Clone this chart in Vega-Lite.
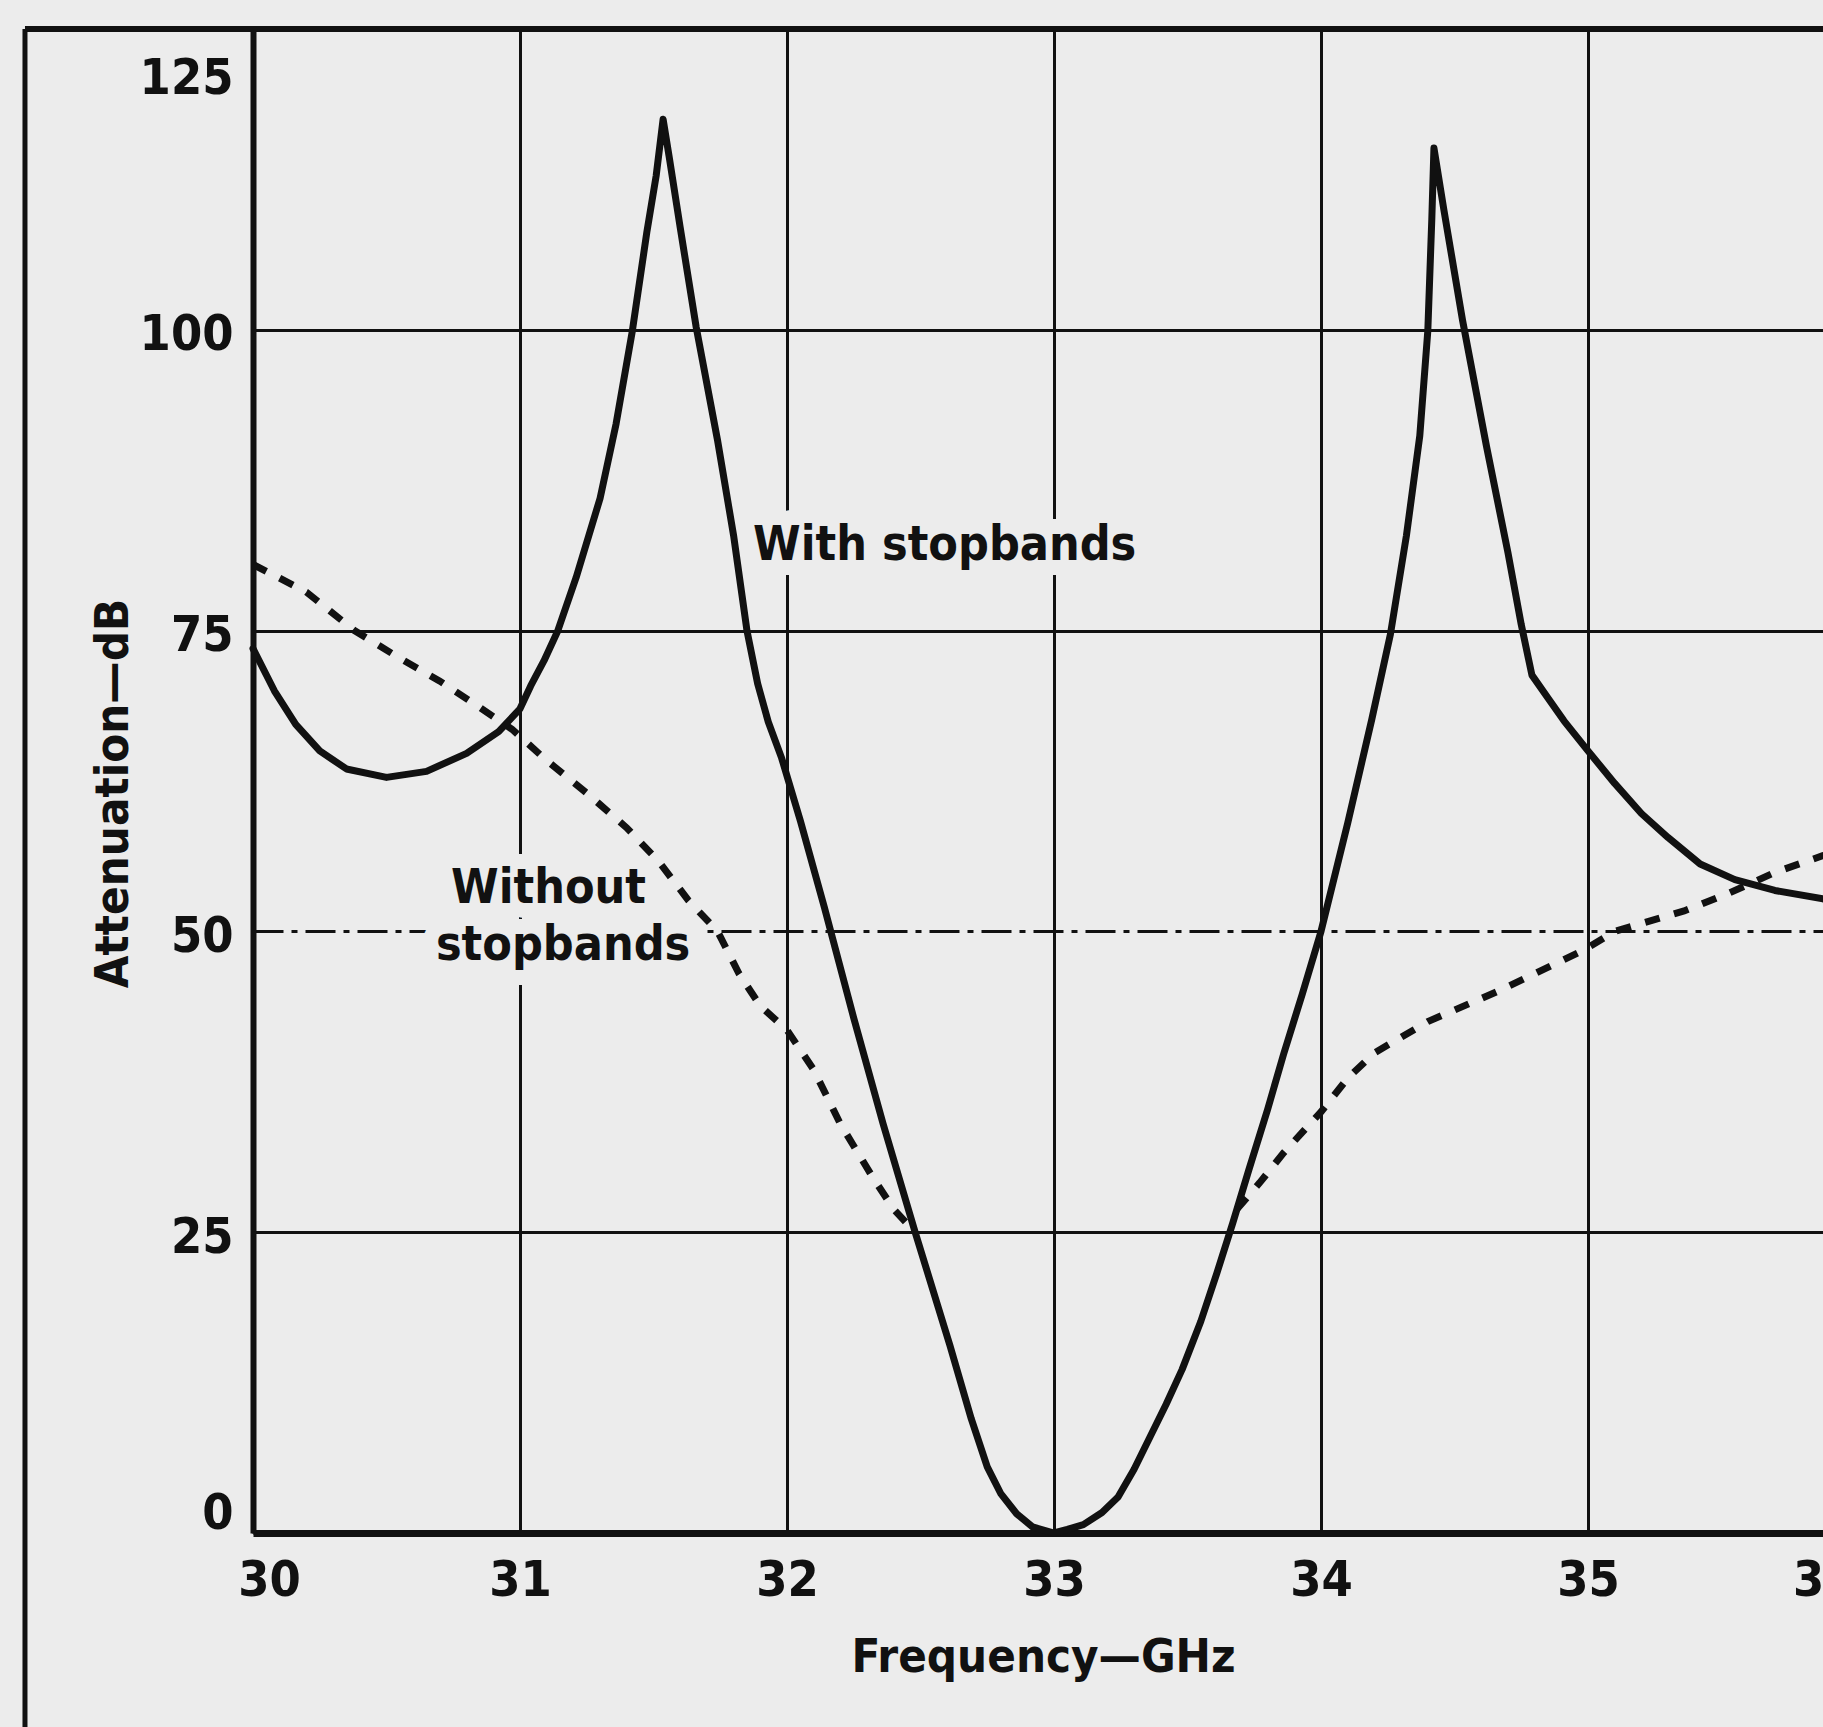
{
  "$schema": "https://vega.github.io/schema/vega-lite/v6.json",
  "width": 1570,
  "height": 1504,
  "autosize": {"type": "none"},
  "padding": {"left": 253, "top": 29, "right": 0, "bottom": 194},
  "background": "#ececec",
  "config": {
    "view": {"stroke": null},
    "font": "DejaVu Sans Condensed, sans-serif"
  },
  "datasets": {
    "curves": [
      {"s": "with", "g": "a", "f": 30.00, "a": 73.5},
      {"s": "with", "g": "a", "f": 30.08, "a": 70.0},
      {"s": "with", "g": "a", "f": 30.16, "a": 67.2},
      {"s": "with", "g": "a", "f": 30.25, "a": 65.0},
      {"s": "with", "g": "a", "f": 30.35, "a": 63.5},
      {"s": "with", "g": "a", "f": 30.50, "a": 62.8},
      {"s": "with", "g": "a", "f": 30.65, "a": 63.3},
      {"s": "with", "g": "a", "f": 30.80, "a": 64.8},
      {"s": "with", "g": "a", "f": 30.92, "a": 66.6},
      {"s": "with", "g": "a", "f": 31.00, "a": 68.5},
      {"s": "with", "g": "a", "f": 31.04, "a": 70.4},
      {"s": "with", "g": "a", "f": 31.09, "a": 72.5},
      {"s": "with", "g": "a", "f": 31.14, "a": 74.9},
      {"s": "with", "g": "a", "f": 31.21, "a": 79.4},
      {"s": "with", "g": "a", "f": 31.30, "a": 86.0},
      {"s": "with", "g": "a", "f": 31.36, "a": 92.2},
      {"s": "with", "g": "a", "f": 31.42, "a": 99.8},
      {"s": "with", "g": "a", "f": 31.475, "a": 108.1},
      {"s": "with", "g": "a", "f": 31.51, "a": 112.8},
      {"s": "with", "g": "a", "f": 31.536, "a": 117.5},
      {"s": "with", "g": "a", "f": 31.56, "a": 114.2},
      {"s": "with", "g": "a", "f": 31.60, "a": 108.5},
      {"s": "with", "g": "a", "f": 31.66, "a": 100.2},
      {"s": "with", "g": "a", "f": 31.74, "a": 90.8},
      {"s": "with", "g": "a", "f": 31.80, "a": 82.9},
      {"s": "with", "g": "a", "f": 31.85, "a": 75.0},
      {"s": "with", "g": "a", "f": 31.89, "a": 70.6},
      {"s": "with", "g": "a", "f": 31.93, "a": 67.4},
      {"s": "with", "g": "a", "f": 31.98, "a": 64.4},
      {"s": "with", "g": "a", "f": 32.05, "a": 59.2},
      {"s": "with", "g": "a", "f": 32.14, "a": 52.0},
      {"s": "with", "g": "a", "f": 32.25, "a": 42.8},
      {"s": "with", "g": "a", "f": 32.36, "a": 34.0},
      {"s": "with", "g": "a", "f": 32.48, "a": 25.0},
      {"s": "with", "g": "a", "f": 32.61, "a": 15.6},
      {"s": "with", "g": "a", "f": 32.69, "a": 9.5},
      {"s": "with", "g": "a", "f": 32.75, "a": 5.5},
      {"s": "with", "g": "a", "f": 32.80, "a": 3.3},
      {"s": "with", "g": "a", "f": 32.86, "a": 1.6},
      {"s": "with", "g": "a", "f": 32.92, "a": 0.5},
      {"s": "with", "g": "a", "f": 33.00, "a": 0.0},
      {"s": "with", "g": "a", "f": 33.05, "a": 0.3},
      {"s": "with", "g": "a", "f": 33.11, "a": 0.7},
      {"s": "with", "g": "a", "f": 33.18, "a": 1.7},
      {"s": "with", "g": "a", "f": 33.24, "a": 3.0},
      {"s": "with", "g": "a", "f": 33.30, "a": 5.3},
      {"s": "with", "g": "a", "f": 33.36, "a": 8.0},
      {"s": "with", "g": "a", "f": 33.42, "a": 10.7},
      {"s": "with", "g": "a", "f": 33.48, "a": 13.6},
      {"s": "with", "g": "a", "f": 33.55, "a": 17.6},
      {"s": "with", "g": "a", "f": 33.61, "a": 21.6},
      {"s": "with", "g": "a", "f": 33.67, "a": 25.8},
      {"s": "with", "g": "a", "f": 33.73, "a": 30.2},
      {"s": "with", "g": "a", "f": 33.80, "a": 35.2},
      {"s": "with", "g": "a", "f": 33.86, "a": 39.8},
      {"s": "with", "g": "a", "f": 33.93, "a": 44.8},
      {"s": "with", "g": "a", "f": 34.00, "a": 50.0},
      {"s": "with", "g": "a", "f": 34.10, "a": 59.0},
      {"s": "with", "g": "a", "f": 34.19, "a": 67.6},
      {"s": "with", "g": "a", "f": 34.26, "a": 74.7},
      {"s": "with", "g": "a", "f": 34.32, "a": 82.9},
      {"s": "with", "g": "a", "f": 34.37, "a": 91.2},
      {"s": "with", "g": "a", "f": 34.40, "a": 99.9},
      {"s": "with", "g": "a", "f": 34.415, "a": 109.2},
      {"s": "with", "g": "a", "f": 34.423, "a": 115.1},
      {"s": "with", "g": "a", "f": 34.46, "a": 110.0},
      {"s": "with", "g": "a", "f": 34.53, "a": 100.8},
      {"s": "with", "g": "a", "f": 34.62, "a": 90.3},
      {"s": "with", "g": "a", "f": 34.70, "a": 81.5},
      {"s": "with", "g": "a", "f": 34.75, "a": 75.5},
      {"s": "with", "g": "a", "f": 34.79, "a": 71.3},
      {"s": "with", "g": "a", "f": 34.85, "a": 69.4},
      {"s": "with", "g": "a", "f": 34.91, "a": 67.5},
      {"s": "with", "g": "a", "f": 35.00, "a": 65.0},
      {"s": "with", "g": "a", "f": 35.10, "a": 62.3},
      {"s": "with", "g": "a", "f": 35.20, "a": 59.8},
      {"s": "with", "g": "a", "f": 35.30, "a": 57.8},
      {"s": "with", "g": "a", "f": 35.42, "a": 55.6},
      {"s": "with", "g": "a", "f": 35.55, "a": 54.3},
      {"s": "with", "g": "a", "f": 35.70, "a": 53.4},
      {"s": "with", "g": "a", "f": 35.88, "a": 52.7},
      {"s": "with", "g": "a", "f": 36.00, "a": 52.3},
      {"s": "without", "g": "b", "f": 30.00, "a": 80.5},
      {"s": "without", "g": "b", "f": 30.20, "a": 78.2},
      {"s": "without", "g": "b", "f": 30.38, "a": 75.0},
      {"s": "without", "g": "b", "f": 30.55, "a": 72.7},
      {"s": "without", "g": "b", "f": 30.70, "a": 70.8},
      {"s": "without", "g": "b", "f": 30.85, "a": 68.6},
      {"s": "without", "g": "b", "f": 30.97, "a": 66.8},
      {"s": "without", "g": "b", "f": 31.10, "a": 64.2},
      {"s": "without", "g": "b", "f": 31.25, "a": 61.5},
      {"s": "without", "g": "b", "f": 31.40, "a": 58.6},
      {"s": "without", "g": "b", "f": 31.52, "a": 55.8},
      {"s": "without", "g": "b", "f": 31.63, "a": 52.6},
      {"s": "without", "g": "b", "f": 31.74, "a": 50.0},
      {"s": "without", "g": "b", "f": 31.82, "a": 46.5},
      {"s": "without", "g": "b", "f": 31.90, "a": 43.8},
      {"s": "without", "g": "b", "f": 32.00, "a": 41.8},
      {"s": "without", "g": "b", "f": 32.10, "a": 38.5},
      {"s": "without", "g": "b", "f": 32.20, "a": 34.0},
      {"s": "without", "g": "b", "f": 32.32, "a": 29.6},
      {"s": "without", "g": "b", "f": 32.40, "a": 26.9},
      {"s": "without", "g": "b", "f": 32.48, "a": 25.0},
      {"s": "without", "g": "c", "f": 33.685, "a": 26.9},
      {"s": "without", "g": "c", "f": 33.77, "a": 29.1},
      {"s": "without", "g": "c", "f": 33.86, "a": 31.6},
      {"s": "without", "g": "c", "f": 34.00, "a": 35.0},
      {"s": "without", "g": "c", "f": 34.10, "a": 37.8},
      {"s": "without", "g": "c", "f": 34.20, "a": 39.9},
      {"s": "without", "g": "c", "f": 34.40, "a": 42.5},
      {"s": "without", "g": "c", "f": 34.67, "a": 45.1},
      {"s": "without", "g": "c", "f": 34.98, "a": 48.4},
      {"s": "without", "g": "c", "f": 35.10, "a": 50.0},
      {"s": "without", "g": "c", "f": 35.36, "a": 51.7},
      {"s": "without", "g": "c", "f": 35.53, "a": 53.2},
      {"s": "without", "g": "c", "f": 35.70, "a": 54.9},
      {"s": "without", "g": "c", "f": 35.88, "a": 56.3},
      {"s": "without", "g": "c", "f": 36.00, "a": 57.2}
    ],
    "labels": [
      {"t": "With stopbands", "f": 31.873, "a": 80.9},
      {"t": "Without", "f": 30.742, "a": 52.4},
      {"t": "stopbands", "f": 30.685, "a": 47.6}
    ]
  },
  "layer": [
    {
      "data": {"values": [{"frame": "left"}]},
      "mark": {"type": "rule", "color": "#111111", "strokeWidth": 5},
      "encoding": {
        "x": {"datum": 29.146, "type": "quantitative", "scale": {"domain": [30, 36], "range": [0, 1602], "nice": false, "zero": false}},
        "y": {"datum": 125, "type": "quantitative", "scale": {"domain": [0, 125], "nice": false, "zero": false}},
        "y2": {"datum": -20}
      }
    },
    {
      "data": {"values": [{"frame": "top"}]},
      "mark": {"type": "rule", "color": "#111111", "strokeWidth": 6},
      "encoding": {
        "x": {"datum": 29.146, "type": "quantitative"},
        "x2": {"datum": 36.5},
        "y": {"datum": 125, "type": "quantitative"}
      }
    },
    {
      "data": {"name": "labels"},
      "mark": {"type": "text", "align": "left", "baseline": "alphabetic", "fontSize": 48, "fontWeight": "bold", "stroke": "#ececec", "strokeWidth": 30, "strokeJoin": "round", "fill": "#ececec"},
      "encoding": {
        "x": {"field": "f", "type": "quantitative"},
        "y": {"field": "a", "type": "quantitative"},
        "text": {"field": "t"}
      }
    },
    {
      "data": {"name": "curves"},
      "transform": [{"filter": "datum.s === 'without'"}],
      "mark": {"type": "line", "color": "#111111", "strokeWidth": 7, "strokeDash": [15, 15], "strokeCap": "butt"},
      "encoding": {
        "x": {"field": "f", "type": "quantitative"},
        "y": {"field": "a", "type": "quantitative"},
        "detail": {"field": "g"}
      }
    },
    {
      "data": {"name": "curves"},
      "transform": [{"filter": "datum.s === 'with'"}],
      "mark": {"type": "line", "color": "#111111", "strokeWidth": 7, "strokeJoin": "round", "strokeCap": "round"},
      "encoding": {
        "x": {
          "field": "f", "type": "quantitative",
          "axis": {
            "values": [30, 31, 32, 33, 34, 35, 36], "format": "d",
            "grid": true, "gridColor": "#111111", "gridWidth": 3,
            "domainColor": "#111111", "domainWidth": 7, "ticks": false,
            "labelFontSize": 50, "labelFontWeight": "bold", "labelColor": "#111111",
            "labelPadding": 22, "labelFlush": false,
            "labelAlign": {"condition": {"test": "datum.value === 36", "value": "right"}, "value": "center"},
            "labelOffset": {"condition": {"test": "datum.value === 30", "value": 16}, "value": 0},
            "title": "Frequency—GHz", "titleFontSize": 47, "titleFontWeight": "bold", "titleColor": "#111111",
            "titleX": 790, "titleY": 138, "titleBaseline": "alphabetic", "titleAlign": "center"
          }
        },
        "y": {
          "field": "a", "type": "quantitative",
          "axis": {
            "values": [0, 25, 50, 75, 100, 125], "format": "d",
            "grid": true, "gridColor": "#111111", "gridWidth": 3,
            "gridDash": {"condition": {"test": "datum.value === 50", "value": [30, 8, 6, 8]}, "value": []},
            "domainColor": "#111111", "domainWidth": 6, "ticks": false,
            "labelFontSize": 50, "labelFontWeight": "bold", "labelColor": "#111111",
            "labelPadding": 20, "labelFlush": true,
            "labelOffset": {"condition": {"test": "datum.value === 125", "value": 24}, "value": 5},
            "title": "Attenuation—dB", "titleFontSize": 47, "titleFontWeight": "bold", "titleColor": "#111111",
            "titleX": -140, "titleY": 764, "titleAngle": -90, "titleBaseline": "middle", "titleAlign": "center"
          }
        }
      }
    },
    {
      "data": {"name": "labels"},
      "mark": {"type": "text", "align": "left", "baseline": "alphabetic", "fontSize": 48, "fontWeight": "bold", "color": "#111111"},
      "encoding": {
        "x": {"field": "f", "type": "quantitative"},
        "y": {"field": "a", "type": "quantitative"},
        "text": {"field": "t"}
      }
    }
  ]
}
